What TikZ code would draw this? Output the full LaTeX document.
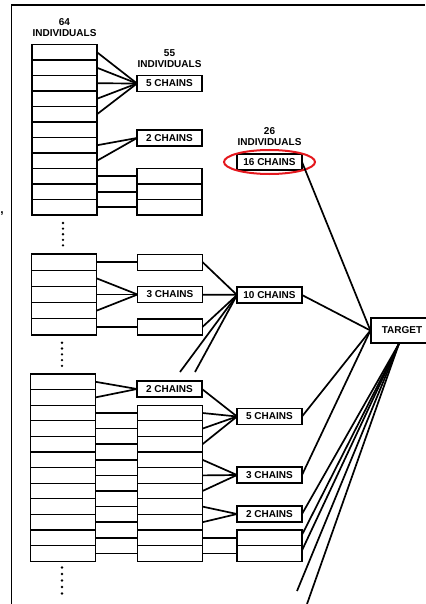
\documentclass[tikz,border=0pt]{standalone}
\usepackage{fontspec}
\setmainfont{Liberation Sans}
\usepackage{xcolor}
\usetikzlibrary{positioning,calc}

\definecolor{ringred}{RGB}{228,24,30}

\begin{document}
\begin{tikzpicture}[
  x=1pt, y=-1pt,
  font=\bfseries\fontsize{10}{11}\selectfont,
  cell/.style={draw, line width=1.2pt, minimum width=65pt, minimum height=#1, inner sep=0pt, outer sep=0pt},
  cell/.default=15.6pt,
  chainbox/.style={cell=16pt},
  lbl/.style={align=center, inner sep=0pt},
  link/.style={line width=1.7pt},
  ring/.style={draw=ringred, line width=2pt}
]
\useasboundingbox (0,0) rectangle (425,604);

% frame of the scanned page
\draw[line width=1pt] (11,5) -- (11,604);
\draw[line width=1.8pt] (11,5) -- (425,5);
\node[inner sep=0pt, font=\bfseries\fontsize{12}{12}\selectfont] (tick) at (2,214) {,};

% first group: 64 individuals
\foreach \i in {1,...,11}
  \node[cell=15.5pt] (ga-\i) at (64.5,{44.5+15.5*(\i-0.5)}) {};
\foreach \i in {9,10,11}
  \node[cell=15.5pt, right=40pt of ga-\i] (ma-\i) {};
\node[chainbox] (fivea) at (169.5,83.5) {5 CHAINS};
\node[chainbox] (twoa) at (169.5,138) {2 CHAINS};
\node[lbl, above=8pt of ga-1] (n64) {64\\INDIVIDUALS};
\node[lbl, above=8pt of fivea] (n55) {55\\INDIVIDUALS};
\foreach \i in {1,...,5}
  \draw[link] (ga-\i.east) -- (fivea.west);
\foreach \i in {7,8}
  \draw[link] (ga-\i.east) -- (twoa.west);
\foreach \i in {9,10,11}
  \draw[link] (ga-\i) -- (ma-\i);
\foreach \y in {223,228.6,234.2,239.8,245.4}
  \fill (63,\y) circle (1.3pt);

% second group
\foreach \i in {1,...,5}
  \node[cell=16.2pt] (gb-\i) at (64,{254+16.2*(\i-0.5)}) {};
\node[cell=16pt, right=41pt of gb-1] (topb) {};
\node[chainbox, right=41pt of gb-3] (threeb) {3 CHAINS};
\node[cell=16pt, right=41pt of gb-5] (botb) {};
\draw[link] (gb-1) -- (topb);
\foreach \i in {2,3,4}
  \draw[link] (gb-\i.east) -- (threeb.west);
\draw[link] (gb-5) -- (botb);
\foreach \y in {342.7,348.5,354.3,360.1,365.9}
  \fill (62,\y) circle (1.3pt);

% third group
\foreach \i in {1,...,12}
  \node[cell=15.6pt] (gc-\i) at (63,{374+15.6*(\i-0.5)}) {};
\node[chainbox] (twoc) at (169.5,389) {2 CHAINS};
\foreach \i in {3,...,12}
  \node[cell=15.6pt, right=42pt of gc-\i] (mc-\i) {};
\foreach \i in {1,2}
  \draw[link] (gc-\i.east) -- (twoc.west);
\foreach \i in {3,...,12}
  \draw[link] (gc-\i) -- (mc-\i);
\foreach \y in {567.5,574,580.5,587,593.5}
  \fill (62,\y) circle (1.3pt);

% merged chains
\node[chainbox] (sixteen) at (269.5,162) {16 CHAINS};
\node[lbl, above=8pt of sixteen] (n26) {26\\INDIVIDUALS};
\draw[ring] (sixteen.center) ellipse [x radius=45.5pt, y radius=12pt];
\node[chainbox] (ten) at (269.5,295) {10 CHAINS};
\node[chainbox] (fivec) at (269.5,416.5) {5 CHAINS};
\node[chainbox] (threec) at (269.5,475) {3 CHAINS};
\node[chainbox] (twod) at (269.5,514) {2 CHAINS};
\foreach \i in {11,12}
  \node[cell=15.6pt, right=34.5pt of mc-\i] (md-\i) {};

\draw[link] (topb.east) -- (ten.west);
\draw[link] (threeb) -- (ten);
\draw[link] (botb.east) -- (ten.west);
\coordinate (upa) at (180,372);
\coordinate (upb) at (195,372);
\draw[link] (ten.west) -- (upa);
\draw[link] (ten.west) -- (upb);
\draw[link] (twoc.east) -- (fivec.west);
\foreach \i in {3,4,5}
  \draw[link] (mc-\i.east) -- (fivec.west);
\foreach \i in {6,7,8}
  \draw[link] (mc-\i.east) -- (threec.west);
\foreach \i in {9,10}
  \draw[link] (mc-\i.east) -- (twod.west);
\foreach \i in {11,12}
  \draw[link] (mc-\i) -- (md-\i);

% target
\node[draw, line width=1.2pt, minimum width=62pt, minimum height=25pt] (target) at (402,330.5) {TARGET};
\coordinate (foot) at ([xshift=-3pt]target.south);
\coordinate (offa) at (297,591);
\coordinate (offb) at (307,604);
\draw[link] (sixteen.east) -- (target.west);
\draw[link] (ten.east) -- (target.west);
\draw[link] (fivec.east) -- (target.west);
\draw[link] (threec.east) -- (target.west);
\draw[link] (foot) -- (twod.east);
\draw[link] (foot) -- ([yshift=3pt]md-11.east);
\draw[link] (foot) -- ([yshift=3pt]md-12.east);
\draw[link] (foot) -- (offa);
\draw[link] (foot) -- (offb);
\end{tikzpicture}
\end{document}
